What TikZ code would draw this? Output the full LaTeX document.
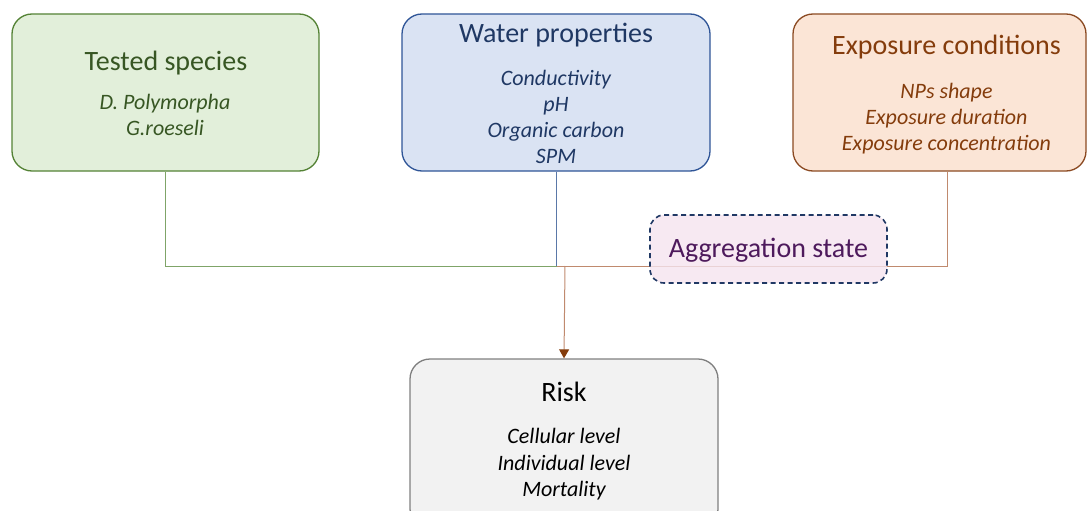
\documentclass[tikz,border=0pt]{standalone}
\usepackage{fontspec}
\setmainfont{Carlito}
\usetikzlibrary{arrows.meta}
\definecolor{gfill}{HTML}{E2EFDA}\definecolor{gdraw}{HTML}{548235}\definecolor{gtext}{HTML}{375623}
\definecolor{bfill}{HTML}{DAE3F3}\definecolor{bdraw}{HTML}{2F5597}\definecolor{btext}{HTML}{1F3864}
\definecolor{ofill}{HTML}{FBE5D6}\definecolor{odraw}{HTML}{8B4A22}\definecolor{otext}{HTML}{843C0C}
\definecolor{pfill}{HTML}{F5E4EF}\definecolor{pdraw}{HTML}{203864}\definecolor{ptext}{HTML}{4E1A5C}
\definecolor{rfill}{HTML}{F2F2F2}\definecolor{rdraw}{HTML}{7F7F7F}
\definecolor{gline}{HTML}{7FA468}\definecolor{bline}{HTML}{5A78A8}\definecolor{oline}{HTML}{C08A6E}
\tikzset{
  box/.style={rectangle, rounded corners=20pt, line width=1.3pt, inner sep=0pt},
  ttl/.style={anchor=base, inner sep=0pt, font=\fontsize{28}{33}\selectfont},
  itm/.style={anchor=base, inner sep=0pt, font=\fontsize{22}{26}\selectfont\itshape},
  conn/.style={line width=1pt}
}
\begin{document}
\begin{tikzpicture}[x=1pt,y=-1pt]
\useasboundingbox (0,0) rectangle (1087,511);
% boxes
\node[box, fill=gfill, draw=gdraw, minimum width=307pt, minimum height=157pt] (ts) at (165.5,92.5) {};
\node[box, fill=bfill, draw=bdraw, minimum width=308pt, minimum height=157pt] (wp) at (556,92.5) {};
\node[box, fill=ofill, draw=odraw, minimum width=293pt, minimum height=157pt] (ec) at (939.5,92.5) {};
\node[box, fill=rfill, draw=rdraw, minimum width=308pt, minimum height=170pt] (rk) at (564,444) {};
% texts
\node[ttl, text=gtext] (t1) at (166,70.5) {Tested species};
\node[itm, text=gtext] (t1a) at (165,109) {D. Polymorpha};
\node[itm, text=gtext] (t1b) at (165,135) {G.roeseli};
\node[ttl, text=btext] (t2) at (556,42.5) {Water properties};
\node[itm, text=btext] (t2a) at (556,85) {Conductivity};
\node[itm, text=btext] (t2b) at (556,111) {pH};
\node[itm, text=btext] (t2c) at (556,137) {Organic carbon};
\node[itm, text=btext] (t2d) at (556,163) {SPM};
\node[ttl, text=otext] (t3) at (946.5,55) {Exposure conditions};
\node[itm, text=otext] (t3a) at (946.5,98) {NPs shape};
\node[itm, text=otext] (t3b) at (946.5,124) {Exposure duration};
\node[itm, text=otext] (t3c) at (946.5,150) {Exposure concentration};
\node[ttl, text=black] (t4) at (564,401) {Risk};
\node[itm, text=black] (t4a) at (564,443.5) {Cellular level};
\node[itm, text=black] (t4b) at (564,470) {Individual level};
\node[itm, text=black] (t4c) at (564,496.5) {Mortality};
% connectors
\coordinate (j) at (557,266);
\coordinate (a) at (565,266);
\coordinate (ecs) at ([xshift=7.5pt]ec.south);
\draw[conn, gline] (ts.south) |- (j);
\draw[conn, oline] (ecs) |- (j);
\draw[conn, bline] (wp.south) -- (wp.south |- j);
\draw[conn, oline, -{Triangle[length=9pt,width=10pt,color=otext]}] (a) -- (rk.north);
% aggregation state
\node[box, rounded corners=14pt, fill=pfill, fill opacity=0.8, draw=pdraw, dash pattern=on 5pt off 3.5pt, line width=1.6pt, minimum width=237pt, minimum height=68pt] (ag) at (768.5,249) {};
\node[ttl, text=ptext] (t5) at (768.5,257) {Aggregation state};
\end{tikzpicture}
\end{document}
